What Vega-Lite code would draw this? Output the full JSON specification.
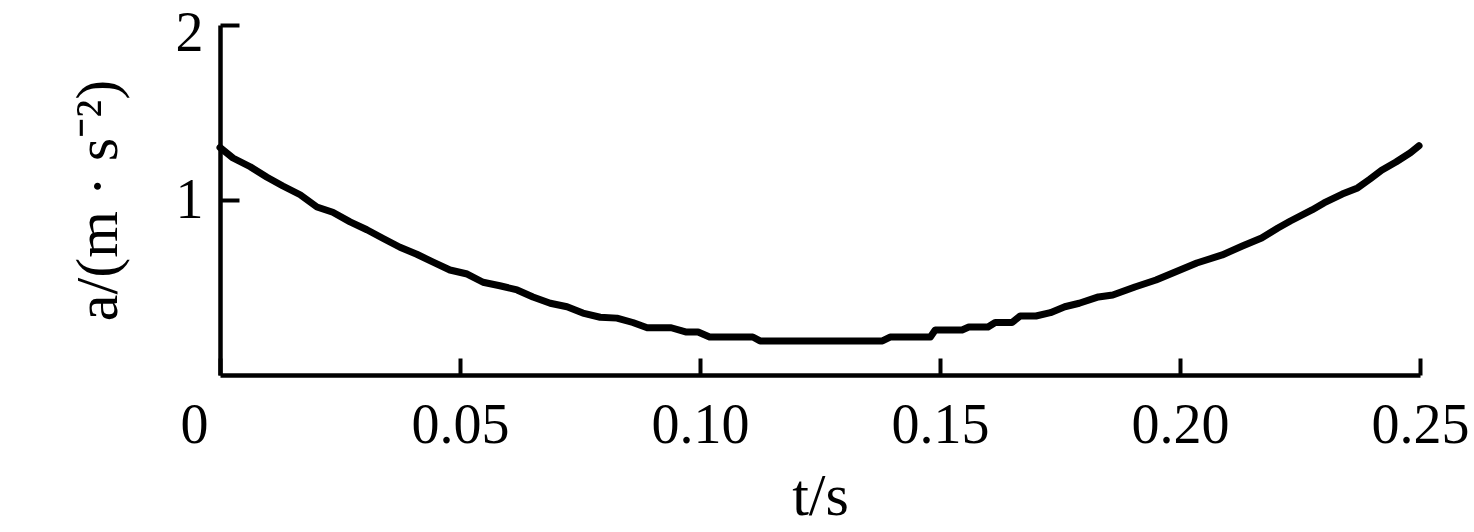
{
  "$schema": "https://vega.github.io/schema/vega-lite/v6.json",
  "autosize": "none",
  "width": 1200,
  "height": 350,
  "padding": {"left": 220, "top": 25, "right": 54, "bottom": 157},
  "background": "white",
  "config": {
    "view": {"stroke": null},
    "font": "Liberation Serif",
    "axis": {
      "grid": false,
      "domainColor": "black",
      "domainWidth": 4.5,
      "tickColor": "black",
      "tickWidth": 4,
      "labelFont": "Liberation Serif",
      "labelFontSize": 56,
      "labelColor": "black",
      "titleFont": "Liberation Serif",
      "titleFontSize": 60,
      "titleFontWeight": "normal",
      "titleColor": "black"
    }
  },
  "data": {
    "values": [
      {"t": 0.0, "a": 1.30},
      {"t": 0.0027, "a": 1.24},
      {"t": 0.0063, "a": 1.19},
      {"t": 0.0098, "a": 1.13},
      {"t": 0.0131, "a": 1.08},
      {"t": 0.0167, "a": 1.03},
      {"t": 0.0202, "a": 0.96},
      {"t": 0.0235, "a": 0.93},
      {"t": 0.0271, "a": 0.875},
      {"t": 0.0306, "a": 0.83},
      {"t": 0.034, "a": 0.78},
      {"t": 0.0375, "a": 0.73},
      {"t": 0.041, "a": 0.69},
      {"t": 0.0444, "a": 0.645},
      {"t": 0.0479, "a": 0.60},
      {"t": 0.0515, "a": 0.577},
      {"t": 0.0548, "a": 0.53},
      {"t": 0.0583, "a": 0.51},
      {"t": 0.0619, "a": 0.486},
      {"t": 0.0652, "a": 0.446},
      {"t": 0.0688, "a": 0.41},
      {"t": 0.0723, "a": 0.39},
      {"t": 0.0756, "a": 0.354},
      {"t": 0.0792, "a": 0.33},
      {"t": 0.0827, "a": 0.325},
      {"t": 0.086, "a": 0.30},
      {"t": 0.089, "a": 0.27},
      {"t": 0.094, "a": 0.27},
      {"t": 0.097, "a": 0.246},
      {"t": 0.0996, "a": 0.246},
      {"t": 0.102, "a": 0.217},
      {"t": 0.111, "a": 0.217},
      {"t": 0.1125, "a": 0.195},
      {"t": 0.138, "a": 0.195},
      {"t": 0.1396, "a": 0.217},
      {"t": 0.148, "a": 0.217},
      {"t": 0.149, "a": 0.257},
      {"t": 0.1546, "a": 0.257},
      {"t": 0.156, "a": 0.274},
      {"t": 0.16, "a": 0.274},
      {"t": 0.1615, "a": 0.30},
      {"t": 0.165, "a": 0.30},
      {"t": 0.1667, "a": 0.337},
      {"t": 0.170, "a": 0.337},
      {"t": 0.173, "a": 0.356},
      {"t": 0.176, "a": 0.39},
      {"t": 0.179, "a": 0.41},
      {"t": 0.183, "a": 0.446},
      {"t": 0.186, "a": 0.457},
      {"t": 0.1906, "a": 0.503},
      {"t": 0.195, "a": 0.543},
      {"t": 0.1985, "a": 0.583},
      {"t": 0.2035, "a": 0.64},
      {"t": 0.2088, "a": 0.686},
      {"t": 0.213, "a": 0.737},
      {"t": 0.217, "a": 0.783},
      {"t": 0.2204, "a": 0.84},
      {"t": 0.223, "a": 0.88},
      {"t": 0.2275, "a": 0.943},
      {"t": 0.230, "a": 0.983},
      {"t": 0.2338, "a": 1.034},
      {"t": 0.237, "a": 1.069},
      {"t": 0.2396, "a": 1.12},
      {"t": 0.242, "a": 1.17},
      {"t": 0.245, "a": 1.217},
      {"t": 0.248, "a": 1.27},
      {"t": 0.2498, "a": 1.31}
    ]
  },
  "mark": {"type": "line", "color": "black", "strokeWidth": 7, "strokeJoin": "round", "strokeCap": "round", "clip": false},
  "encoding": {
    "x": {
      "field": "t",
      "type": "quantitative",
      "scale": {"domain": [0, 0.25], "nice": false, "zero": false},
      "axis": {
        "title": "t/s",
        "values": [0, 0.05, 0.1, 0.15, 0.2, 0.25],
        "labelExpr": "datum.value == 0 ? '0' : format(datum.value, '.2f')",
        "tickSize": -17,
        "labelPadding": 40,
        "labelOffset": {"condition": {"test": "datum.value == 0", "value": -26}, "value": 0},
        "labelFlush": false,
        "labelOverlap": false,
        "titlePadding": 14
      }
    },
    "y": {
      "field": "a",
      "type": "quantitative",
      "scale": {"domain": [0, 2], "nice": false},
      "axis": {
        "title": "a/(m · s⁻²)",
        "values": [1, 2],
        "tickSize": -19,
        "labelPadding": 36,
        "labelOffset": {"condition": {"test": "datum.value == 2", "value": 8}, "value": 0},
        "labelFlush": false,
        "labelOverlap": false,
        "titlePadding": 46
      }
    }
  }
}
